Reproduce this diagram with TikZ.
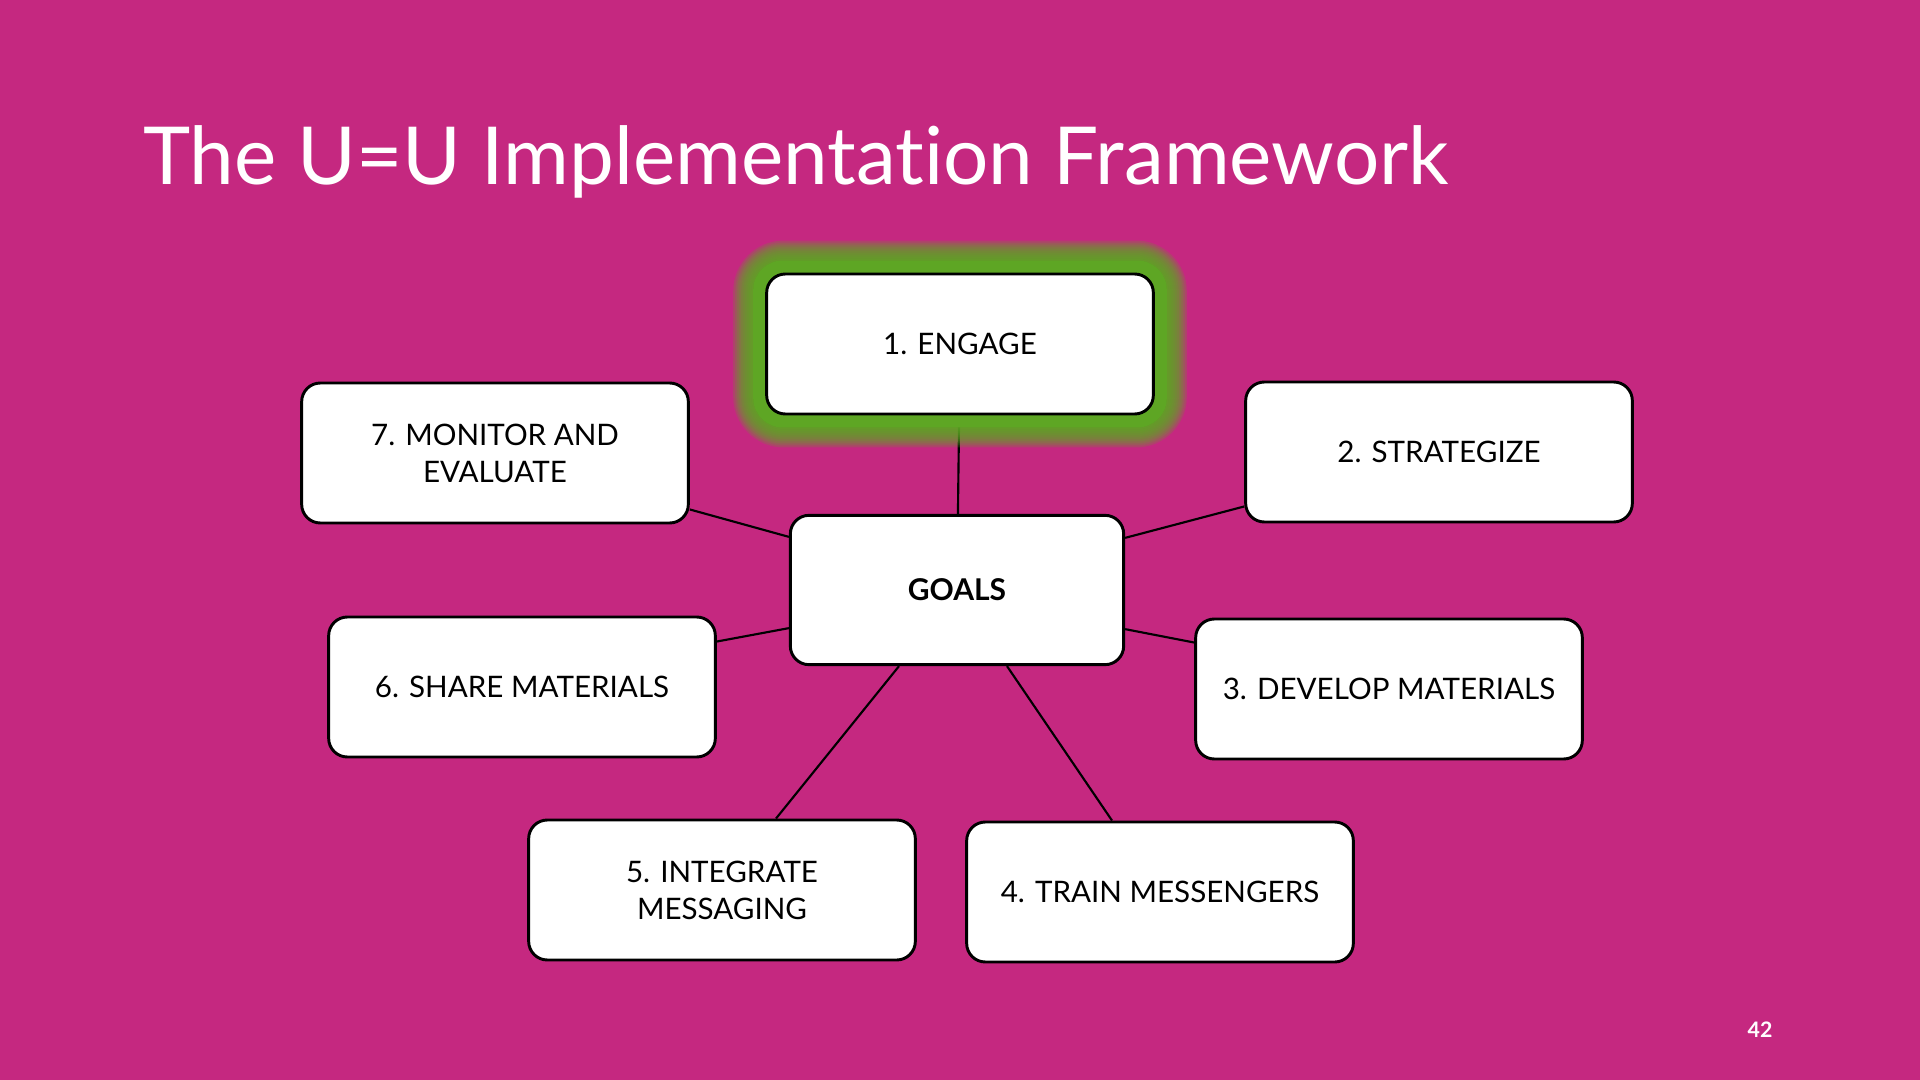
\documentclass[tikz,border=0pt]{standalone}
\usepackage{fontspec}
\setmainfont{Lato}[Ligatures=NoCommon]
\usetikzlibrary{calc,positioning,backgrounds}
\definecolor{uumagenta}{RGB}{197,40,128}
\definecolor{uugreen}{RGB}{94,166,36}
\tikzset{
  stagebox/.style={draw=black, line width=2.2pt, fill=white, rounded corners=14pt, minimum width=290pt, minimum height=105pt, inner sep=0pt, align=center, font=\fontsize{22.2}{27.75}\selectfont},
  goalbox/.style={stagebox, minimum width=250pt, minimum height=112pt, font=\fontsize{22.5}{27.75}\selectfont\bfseries},
  link/.style={black, line width=1.6pt},
}

\begin{document}
\begin{tikzpicture}[x=0.75pt, y=-0.75pt]
  \useasboundingbox (0,0) rectangle (1920,1080);
  \node[anchor=base west, inner sep=0pt, text=white, font=\fontsize{60}{70}\selectfont] (title) at (143,185) {The U=U Implementation Framework};
  \node[goalbox] (goals) at (957,590) {GOALS};
  \node[stagebox] (eng) at (960,344) {1. ENGAGE};
  \node[stagebox] (strat) at (1439,452) {2. STRATEGIZE};
  \node[stagebox] (dev) at (1389,689) {3. DEVELOP MATERIALS};
  \node[stagebox] (train) at (1160,892) {4. TRAIN MESSENGERS};
  \node[stagebox] (integ) at (722,890) {5. INTEGRATE\\MESSAGING};
  \node[stagebox] (share) at (522,687) {6. SHARE MATERIALS};
  \node[stagebox] (mon) at (495,453) {7. MONITOR AND\\EVALUATE};
  \node[text=white, font=\fontsize{16}{18}\selectfont\bfseries] (page) at (1760,1030) {42};
  \begin{pgfonlayer}{background}
    \fill[uumagenta] (0,0) rectangle (1920,1080);
    \draw[link] (eng) -- (goals);
    \draw[link] ($(mon.south east)+(0,-15)$) -- ($(goals.north west)+(0,23)$);
    \draw[link] ($(strat.south west)+(0,-17)$) -- ($(goals.north east)+(0,24)$);
    \draw[link] ($(share.north east)+(0,26)$) -- ($(goals.south west)+(0,-38)$);
    \draw[link] ($(dev.north west)+(0,25)$) -- ($(goals.south east)+(0,-37)$);
    \draw[link] ($(integ.north)+(54,0)$) -- ($(goals.south)+(-58,0)$);
    \draw[link] ($(train.north)+(-48,0)$) -- ($(goals.south)+(50,0)$);
    % glow round the first step
    \fill[uugreen, rounded corners=22pt] ($(eng.north west)+(-12,-12)$) rectangle ($(eng.south east)+(12,12)$);
    \foreach \g [evaluate=\g as \r using 14+0.75*\g] in {14,16,...,32}
      \fill[uugreen, opacity=0.22, rounded corners=\r pt] ($(eng.north west)+(-\g,-\g)$) rectangle ($(eng.south east)+(\g,\g)$);
  \end{pgfonlayer}
\end{tikzpicture}
\end{document}
